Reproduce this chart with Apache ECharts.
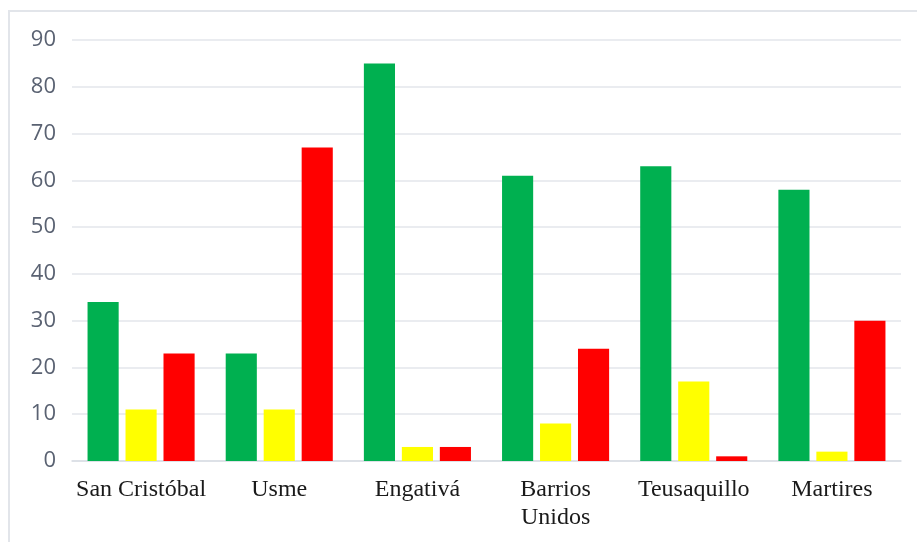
<!DOCTYPE html>
<html>
<head>
<meta charset="utf-8">
<script src="https://cdn.jsdelivr.net/npm/echarts@6/dist/echarts.min.js"></script>
<style>
html,body{margin:0;padding:0;background:#fff;}
#c{width:917px;height:542px;}
</style>
</head>
<body>
<div id="c"></div>
<script>
var categories = ['San Cristóbal', 'Usme', 'Engativá', 'Barrios\nUnidos', 'Teusaquillo', 'Martires'];
var greenValues = [34, 23, 85, 61, 63, 58];
var yellowValues = [11, 11, 3, 8, 17, 2];
var redValues = [23, 67, 3, 24, 1, 30];
var yTicks = [0, 10, 20, 30, 40, 50, 60, 70, 80, 90];

var chart = echarts.init(document.getElementById('c'), null, {renderer: 'canvas'});
chart.setOption({
  animation: false,
  backgroundColor: '#fff',
  graphic: [{
    type: 'rect',
    shape: {x: 9, y: 11, width: 1000, height: 600},
    style: {fill: 'none', stroke: '#e2e5ea', lineWidth: 2},
    silent: true
  }],
  grid: {left: 72, right: 16, top: 40, bottom: 81, containLabel: false},
  xAxis: {
    type: 'category',
    data: categories,
    axisTick: {show: false},
    axisLine: {show: true, lineStyle: {color: '#d9dde3', width: 1.5}},
    axisLabel: {
      fontFamily: 'Liberation Serif',
      fontSize: 24,
      lineHeight: 28,
      color: '#1a1a1a',
      margin: 15,
      interval: 0
    }
  },
  yAxis: {
    type: 'value',
    min: yTicks[0],
    max: yTicks[yTicks.length - 1],
    interval: 10,
    axisLine: {show: false},
    axisTick: {show: false},
    splitLine: {lineStyle: {color: '#e3e6eb', width: 1.5}},
    axisLabel: {
      fontFamily: 'Open Sans',
      fontSize: 22,
      color: '#5a6272',
      margin: 16
    }
  },
  series: [
    {type: 'bar', data: greenValues, itemStyle: {color: '#00B050'}, barGap: '22%', barCategoryGap: '22.5%'},
    {type: 'bar', data: yellowValues, itemStyle: {color: '#FFFF00'}},
    {type: 'bar', data: redValues, itemStyle: {color: '#FF0000'}}
  ]
});
</script>
</body>
</html>
